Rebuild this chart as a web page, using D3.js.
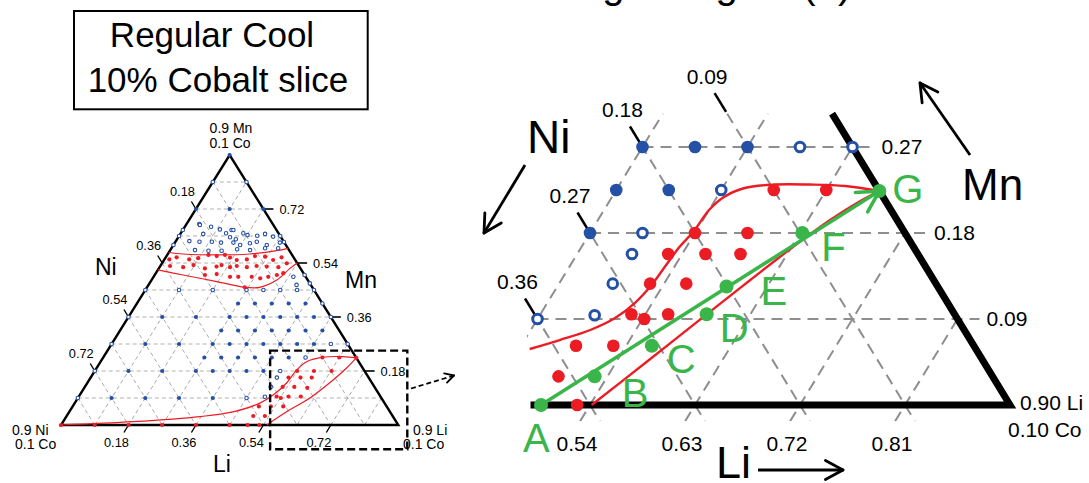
<!DOCTYPE html>
<html><head><meta charset="utf-8">
<script src="https://cdn.jsdelivr.net/npm/d3@7"></script>
<style>
html,body{margin:0;padding:0;background:#fff;}
svg{display:block;font-family:"Liberation Sans",Arial,Helvetica,sans-serif;}
</style></head><body>
<svg id="chart" width="1089" height="483"></svg>
<script>
// ---------------- data: compositions given as [Li, Mn]; Ni = 0.9 - Li - Mn (Co fixed at 0.1) ----------------
const overviewGrid = [0.09, 0.18, 0.27, 0.36, 0.45, 0.54, 0.63, 0.72, 0.81];
const overviewTicks = [0.18, 0.36, 0.54, 0.72];

// lattice compositions (overview)
const ovBlueSolid = [[0,0.9],[0,0.72],[0.09,0.72],[0.18,0.72],
  [0.27,0.405],[0.315,0.405],[0.36,0.405],[0.405,0.405],[0.45,0.405],
  [0.09,0.36],[0.18,0.36],[0.27,0.36],[0.315,0.36],[0.36,0.36],[0.405,0.36],[0.45,0.36],[0.495,0.36],
  [0.27,0.315],[0.315,0.315],[0.36,0.315],[0.405,0.315],[0.45,0.315],[0.495,0.315],[0.54,0.315],
  [0.09,0.27],[0.18,0.27],[0.27,0.27],[0.315,0.27],[0.36,0.27],[0.405,0.27],
  [0.27,0.225],[0.315,0.225],[0.36,0.225],[0.405,0.225],
  [0.09,0.18],[0.18,0.18],[0.27,0.18],[0.315,0.18],[0.36,0.18],[0.405,0.18],
  [0.09,0.09],[0.18,0.09],[0.27,0.09],[0.36,0.09]];
const ovBlueOpen = [[0,0.81],[0.09,0.81],[0,0.63],[0.27,0.63],[0,0.65],[0,0.6],[0.29,0.61],
  [0,0.45],[0.09,0.45],[0.18,0.45],[0.27,0.45],[0.315,0.45],[0.36,0.45],[0.405,0.45],[0.45,0.45],
  [0.495,0.405],[0,0.36],[0.54,0.36],[0,0.27],[0,0.18],[0,0.09],
  [0.40,0.50],[0.428,0.472],[0.395,0.467],[0.373,0.494]];
// fine search above the Mn-rich band
const ovScatterOpen = [[0.034,0.67],[0.070,0.661],[0.098,0.652],[0.061,0.637],[0.121,0.639],[0.130,0.65],
  [0.167,0.639],[0.181,0.633],[0.138,0.626],[0.157,0.619],[0.208,0.631],[0.226,0.637],[0.252,0.628],
  [0.036,0.613],[0.064,0.611],[0.097,0.611],[0.123,0.608],[0.156,0.608],[0.178,0.6],[0.201,0.606],
  [0.217,0.611],[0.249,0.6],[0.280,0.608],[0.066,0.583],[0.103,0.581],[0.138,0.581],[0.177,0.586],
  [0.213,0.583],[0.250,0.589],[0.285,0.589],[0.037,0.667],[0.135,0.65]];
// single-phase compositions inside the Mn-rich band
const ovBandRed = [[0.013,0.552],[0.029,0.559],[0.066,0.552],[0.088,0.556],[0.110,0.567],[0.134,0.563],
  [0.154,0.567],[0.172,0.558],[0.194,0.55],[0.220,0.552],[0.236,0.563],[0.264,0.561],[0.291,0.55],[0.309,0.559],
  [0.026,0.53],[0.063,0.526],[0.087,0.533],[0.123,0.522],[0.151,0.528],[0.162,0.533],[0.188,0.526],
  [0.204,0.53],[0.233,0.526],[0.257,0.53],[0.285,0.528],[0.317,0.526],[0.333,0.539],
  [0.134,0.5],[0.164,0.503],[0.204,0.494],[0.226,0.494],[0.262,0.494],[0.287,0.489],[0.306,0.494],
  [0.326,0.5],[0.340,0.506],[0.261,0.459]];
const ovBaseRed = [[0,0],[0.09,0],[0.18,0],[0.27,0],[0.36,0],[0.45,0]];

// phase boundaries (overview)
const bandTopLi = [0, 0.041, 0.132, 0.219, 0.285, 0.311];
const bandTopMn = [0.575, 0.57, 0.567, 0.57, 0.581, 0.589];
const bandBotLi = [0, 0.076, 0.177, 0.261, 0.301, 0.334, 0.350, 0.36];
const bandBotMn = [0.517, 0.5, 0.478, 0.459, 0.459, 0.483, 0.522, 0.54];
const cornerUpLi = [0, 0.187, 0.357, 0.437, 0.494, 0.516, 0.532, 0.537, 0.550, 0.586, 0.639, 0.676];
const cornerUpMn = [0, 0.011, 0.028, 0.044, 0.073, 0.1, 0.14, 0.183, 0.211, 0.226, 0.228, 0.224];
const cornerLoLi = [0.549, 0.580, 0.619, 0.651, 0.667, 0.676];
const cornerLoMn = [0, 0.044, 0.09, 0.15, 0.19, 0.224];

// enlarged Li-rich corner
const detailLiGrid = [0.45, 0.54, 0.63, 0.72, 0.81];
const detailNiGrid = [0.09, 0.18, 0.27, 0.36];
const detailMnGrid = [0.09, 0.18, 0.27];
const detailLiTicks = [0.54, 0.63, 0.72, 0.81];
const detailNiTicks = [0.36, 0.27, 0.18, 0.09];
const detailBlueSolid = [[0.45,0.27],[0.495,0.27],[0.54,0.27],[0.45,0.225],[0.495,0.225],[0.45,0.18]];
const detailBlueOpen = [[0.585,0.27],[0.63,0.27],[0.54,0.225],[0.495,0.18],[0.497,0.158],[0.496,0.127],[0.45,0.09],[0.497,0.094]];
const detailRed = [[0.585,0.225],[0.63,0.225],[0.54,0.18],[0.585,0.18],[0.528,0.158],[0.56,0.158],[0.59,0.158],
  [0.528,0.127],[0.559,0.127],[0.528,0.095],[0.5415,0.09],[0.5595,0.095],[0.497,0.062],[0.529,0.062],[0.498,0.03],[0.529,0]];
const pathLabels = ['A','B','C','D','E','F','G'];
const pathLi = [0.498, 0.529, 0.562, 0.5925, 0.595, 0.632, 0.676];
const pathMn = [0, 0.03, 0.062, 0.095, 0.124, 0.18, 0.224];
const detailUpLi = [0.459,0.480,0.501,0.516,0.525,0.530,0.532,0.534,0.538,0.540,0.546,0.559,0.583,0.613,0.644,0.676];
const detailUpMn = [0.0586,0.068,0.0785,0.091,0.1067,0.1256,0.1465,0.1653,0.1821,0.2041,0.2177,0.2271,0.2307,0.2307,0.2292,0.224];
const detailLoLi = [0.5414,0.567,0.5925,0.612,0.630,0.649,0.665,0.676];
const detailLoMn = [0,0.0471,0.0949,0.1308,0.1632,0.1936,0.2135,0.224];

// ---------------- drawing ----------------
const svg = d3.select('#chart');
const BLUE = '#2450a6', RED = '#ec1c24', GREEN = '#3ab54a', GRID = '#8e8e8e';
const zip = (a, b) => a.map((v, i) => [v, b[i]]);

function dots(g, proj, data, kind, r, sw) {
  g.append('g').selectAll('circle').data(data).join('circle')
    .attr('cx', d => proj(d)[0]).attr('cy', d => proj(d)[1])
    .attr('r', kind === 'open' ? r - sw / 2 : r)
    .attr('fill', kind === 'open' ? '#fff' : (kind === 'red' ? RED : (kind === 'green' ? GREEN : BLUE)))
    .attr('stroke', kind === 'open' ? BLUE : 'none')
    .attr('stroke-width', kind === 'open' ? sw : 0);
}
function seg(g, p1, p2, stroke, w, dash) {
  return g.append('line').attr('x1', p1[0]).attr('y1', p1[1]).attr('x2', p2[0]).attr('y2', p2[1])
    .attr('stroke', stroke).attr('stroke-width', w).attr('stroke-dasharray', dash || null);
}
function arrow(g, x1, y1, x2, y2, len, w, dash, color) {
  seg(g, [x1, y1], [x2, y2], color || '#000', w, dash);
  const a = Math.atan2(y1 - y2, x1 - x2);
  [0.5, -0.5].forEach(da => seg(g, [x2, y2], [x2 + len * Math.cos(a + da), y2 + len * Math.sin(a + da)], color || '#000', w)
    .attr('stroke-linecap', 'round'));
}
function txt(g, x, y, s, size, anchor, color) {
  return g.append('text').attr('x', x).attr('y', y).attr('font-size', size)
    .attr('text-anchor', anchor || 'start').attr('fill', color || '#000').text(s);
}
const smooth = proj => d3.line().x(d => proj(d)[0]).y(d => proj(d)[1]).curve(d3.curveCatmullRom.alpha(0.5));

// ===== overview triangle =====
const ovX = d3.scaleLinear().domain([0, 0.9]).range([61, 398.3]);
const ovY = d3.scaleLinear().domain([0, 0.9]).range([425, 155]);
const ov = d => [ovX(d[0] + d[1] / 2), ovY(d[1])];
const gO = svg.append('g');

// title box
gO.append('rect').attr('x', 74).attr('y', 11).attr('width', 293.7).attr('height', 98.3)
  .attr('fill', 'none').attr('stroke', '#000').attr('stroke-width', 2);
txt(gO, 212, 46.5, 'Regular Cool', 35, 'middle');
txt(gO, 218, 91.5, '10% Cobalt slice', 35, 'middle');

// grid
overviewGrid.forEach(v => {
  seg(gO, ov([0, v]), ov([0.9 - v, v]), '#a8a8a8', 0.9, '4,3');
  seg(gO, ov([v, 0]), ov([v, 0.9 - v]), '#a0a0a0', 0.9, '4,3');
  seg(gO, ov([0, 0.9 - v]), ov([0.9 - v, 0]), '#a0a0a0', 0.9, '4,3');
});
gO.append('path').attr('d', d3.line()([[0,0],[0.9,0],[0,0.9]].map(ov)) + 'Z')
  .attr('fill', 'none').attr('stroke', '#000').attr('stroke-width', 2.4).attr('stroke-linejoin', 'miter');

// ticks
overviewTicks.forEach(v => {
  const pn = ov([0, 0.9 - v]);           // Ni ticks on left edge
  seg(gO, pn, [pn[0] - 4.5, pn[1] - 7.5], '#000', 1.4);
  txt(gO, pn[0] - 13.5, pn[1] - 13.5, v.toFixed(2), 12.8, 'middle');
  const pl = ov([v, 0]);                 // Li ticks on base
  seg(gO, pl, [pl[0] - 4.5, pl[1] + 7.5], '#000', 1.4);
  txt(gO, pl[0] - 12, 447, v.toFixed(2), 12.8, 'middle');
  const pm = ov([0.9 - v, v]);           // Mn ticks on right edge
  seg(gO, pm, [pm[0] + 10, pm[1]], '#000', 1.6);
  txt(gO, pm[0] + 16, pm[1] + 5, v.toFixed(2), 12.8);
});

// boundaries
const ovLine = smooth(ov);
[[bandTopLi, bandTopMn], [bandBotLi, bandBotMn], [cornerUpLi, cornerUpMn], [cornerLoLi, cornerLoMn]].forEach(c =>
  gO.append('path').attr('d', ovLine(zip(c[0], c[1]))).attr('fill', 'none').attr('stroke', RED).attr('stroke-width', 1.2));

// points
dots(gO, ov, ovBlueSolid.concat(detailBlueSolid), 'solid', 2.1, 0);
dots(gO, ov, ovBlueOpen.concat(ovScatterOpen, detailBlueOpen), 'open', 2.3, 1.1);
dots(gO, ov, ovBandRed.concat(ovBaseRed, detailRed, zip(pathLi, pathMn)), 'red', 2.1, 0);

// corner labels
txt(gO, 231, 133, '0.9 Mn', 14, 'middle');
txt(gO, 230, 148, '0.1 Co', 14, 'middle');
txt(gO, 12, 434.5, '0.9 Ni', 14);
txt(gO, 15, 449, '0.1 Co', 14);
txt(gO, 413, 434.5, '0.9 Li', 14);
txt(gO, 403, 449, '0.1 Co', 14);
txt(gO, 95, 275, 'Ni', 23);
txt(gO, 345, 288, 'Mn', 23);
txt(gO, 213, 472, 'Li', 23);

// enlarged region marker
const zoomBox = {u0: 0.558, u1: 0.924, mn0: -0.081, mn1: 0.248};
gO.append('rect').attr('x', ovX(zoomBox.u0)).attr('y', ovY(zoomBox.mn1))
  .attr('width', ovX(zoomBox.u1) - ovX(zoomBox.u0)).attr('height', ovY(zoomBox.mn0) - ovY(zoomBox.mn1))
  .attr('fill', 'none').attr('stroke', '#000').attr('stroke-width', 2.4).attr('stroke-dasharray', '8,4');
arrow(gO, 411, 388.5, 454, 375.5, 10, 1.8, '5,3');

// ===== enlarged Li-rich corner =====
const dtX = d3.scaleLinear().domain([0, 0.9]).range([-40, 1010]);
const dtY = d3.scaleLinear().domain([0, 0.27]).range([405, 147]);
const dt = d => [dtX(d[0] + d[1] / 2), dtY(d[1])];
const gD = svg.append('g');

// heading of the enlargement, mostly above the top edge
txt(gD, 680, -2, 'Enlarged region (b)', 40, 'middle');

const u527 = dtX.invert(527);
const clipPts = [[527, dtY(-0.017)], dt([0.917, -0.017]), dt([0.595, 0.305]), dt([0.447, 0.305]), [527, dtY(2 * (u527 - 0.447))]];
svg.append('clipPath').attr('id', 'detailClip').append('polygon')
  .attr('points', clipPts.map(p => p.join(',')).join(' '));
const gGrid = gD.append('g').attr('clip-path', 'url(#detailClip)');
detailLiGrid.forEach(l => seg(gGrid, dt([l, -0.017]), dt([l, 0.305]), GRID, 2, '11,7'));
detailNiGrid.forEach(n => seg(gGrid, dt([0.9 - n - 0.305, 0.305]), dt([0.9 - n + 0.017, -0.017]), GRID, 2, '11,7'));
detailMnGrid.forEach(m => {
  const p = dt([0.45, m]);
  const edge = dt([0.9 - m, m]);
  seg(gD, p, [edge[0] + 22, edge[1]], GRID, 2, '11,7');
  txt(gD, edge[0] + 29, edge[1] + 7, m.toFixed(2), 21);
});

// triangle edges of the corner
gD.append('path').attr('d', d3.line()([dt([0.489, 0]), dt([0.9, 0]), dt([0.595, 0.305])]))
  .attr('fill', 'none').attr('stroke', '#000').attr('stroke-width', 7).attr('stroke-linejoin', 'miter');

// Li tick labels
detailLiTicks.forEach(l => txt(gD, dtX(l) - 13, 451, l.toFixed(2), 21, 'middle'));
// Ni tick labels with pointers
const niPts = [[0.45, 0.09], [0.45, 0.18], [0.45, 0.27], [0.505, 0.305]];
detailNiTicks.forEach((n, i) => {
  const p = dt(niPts[i]);
  seg(gD, [p[0] - 1, p[1] - 1.7], [p[0] - 12.5, p[1] - 20.5], '#000', 2.5);
  txt(gD, p[0] - 20, p[1] - 30, n.toFixed(2), 21, 'middle');
});

// boundaries
const dtLine = smooth(dt);
[[detailUpLi, detailUpMn], [detailLoLi, detailLoMn]].forEach(c =>
  gD.append('path').attr('d', dtLine(zip(c[0], c[1]))).attr('fill', 'none').attr('stroke', RED).attr('stroke-width', 2.4));

// points
dots(gD, dt, detailBlueSolid, 'solid', 6.3, 0);
dots(gD, dt, detailBlueOpen, 'open', 6.3, 3);
dots(gD, dt, detailRed, 'red', 6.3, 0);

// composition path A -> G
const path = zip(pathLi, pathMn);
const pA = dt(path[0]), pG = dt(path[path.length - 1]);
arrow(gD, pA[0], pA[1], pG[0], pG[1], 24, 3.5, null, GREEN);
dots(gD, dt, path, 'green', 7, 0);
const labelOffsets = [[-18, 47], [27, 31], [15, 27], [13, 28], [34, 18], [19, 28], [13, 12]];
path.forEach((d, i) => {
  const p = dt(d);
  txt(gD, p[0] + labelOffsets[i][0], p[1] + labelOffsets[i][1], pathLabels[i], 40, 'start', GREEN);
});

// corner and axis labels
txt(gD, 1020, 410, '0.90 Li', 21);
txt(gD, 1008, 437, '0.10 Co', 21);
txt(gD, 527, 153, 'Ni', 46);
txt(gD, 962, 200, 'Mn', 44);
txt(gD, 716, 478, 'Li', 45);
arrow(gD, 525, 165, 484, 233, 20, 2.8);
arrow(gD, 970, 155, 920, 83, 20, 2.8);
arrow(gD, 758, 470, 843, 470, 20, 2.8);
</script>
</body></html>
